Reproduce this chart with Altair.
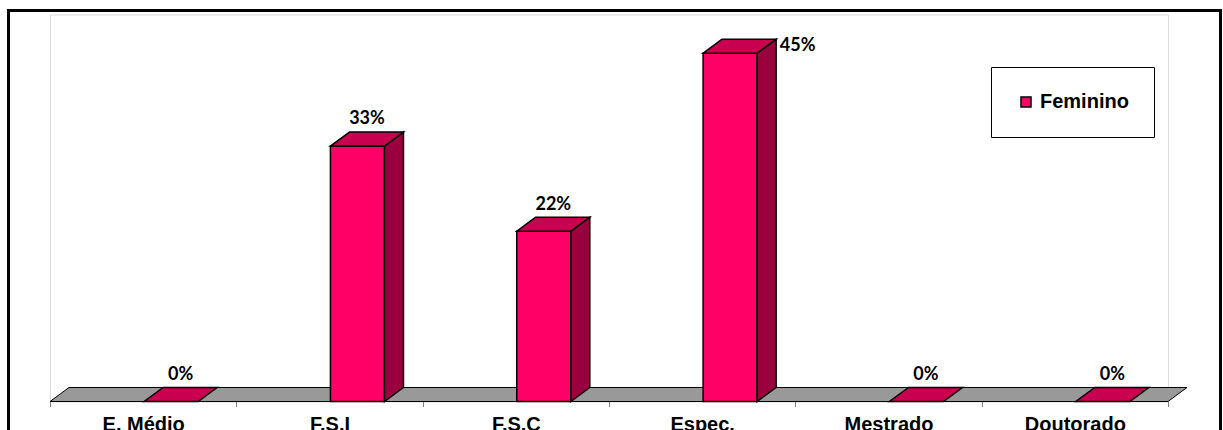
import json
import altair as alt
import pandas as pd

# ---- data ----
categories = ["E. Médio", "F.S.I", "F.S.C", "Espec.", "Mestrado", "Doutorado"]
values = [0, 33, 22, 45, 0, 0]
labels = ["0%", "33%", "22%", "45%", "0%", "0%"]
series_name = "Feminino"

# ---- styling / pseudo-3D geometry (in category units and % units) ----
FRONT = "#FF0066"
TOPC = "#C8004F"
SIDE = "#99003D"
FLOOR = "#999999"
BAR_L, BAR_R = 0.505, 0.795   # front face inside each category slot
DX, DP = 0.102, 1.81          # depth offset (x in slots, y in %)
N = len(categories)

front_rows, side_rows, top_rows, lab_rows = [], [], [], []
for i, (c, v, t) in enumerate(zip(categories, values, labels)):
    front_rows.append({"cat": c, "xl": i + BAR_L, "xr": i + BAR_R, "y0": 0, "y1": v, "series": series_name})
    if v > 0:
        side_rows.append({"cat": c, "x": i + BAR_R, "top": v, "bot": 0})
        side_rows.append({"cat": c, "x": i + BAR_R + DX, "top": v + DP, "bot": DP})
    top_rows.append({"cat": c, "p": v, "xl": i + BAR_L, "xr": i + BAR_R})
    top_rows.append({"cat": c, "p": v + DP, "xl": i + BAR_L + DX, "xr": i + BAR_R + DX})
    if v > 40:
        lab_rows.append({"cat": c, "t": t, "x": i + BAR_R + DX + 0.02, "y": v + 0.3, "al": "left"})
    else:
        lab_rows.append({"cat": c, "t": t, "x": i + (BAR_L + BAR_R) / 2 + DX / 2, "y": v + 2.8, "al": "center"})

front_df = pd.DataFrame(front_rows)
front_df = front_df[front_df["y1"] > 0]
side_df = pd.DataFrame(side_rows)
top_df = pd.DataFrame(top_rows)
lab_df = pd.DataFrame(lab_rows)
floor_df = pd.DataFrame([
    {"k": "floor", "p": 0, "xl": 0, "xr": N},
    {"k": "floor", "p": DP, "xl": DX, "xr": N + DX},
])

xscale = alt.Scale(domain=[0, N], nice=False, zero=False)
yscale = alt.Scale(domain=[0, 50], nice=False, zero=False)

label_expr = "datum.value < %d ? %s[datum.value] : ''" % (N, json.dumps(categories, ensure_ascii=False))
xax = alt.Axis(
    values=list(range(N + 1)), labelExpr=label_expr, title="",
    domain=False, grid=False, ticks=True, tickSize=5, tickColor="#808080", tickWidth=1,
    labelOffset=1118 / N / 2, labelPadding=8, labelFont="Liberation Sans",
    labelFontSize=20, labelFontWeight="bold", labelColor="black",
    labelOverlap=False, labelFlush=False, labelBound=False, labelAlign="center",
)

floor = alt.Chart(floor_df).mark_area(orient="horizontal", color=FLOOR, stroke="black", strokeWidth=1).encode(
    y=alt.Y("p:Q", scale=yscale, axis=None),
    x=alt.X("xl:Q", scale=xscale, axis=xax),
    x2="xr:Q",
    detail="k:N",
)

front = alt.Chart(front_df).mark_rect(stroke="black", strokeWidth=1.5, opacity=1).encode(
    x=alt.X("xl:Q", scale=xscale, axis=xax),
    x2="xr:Q",
    y=alt.Y("y0:Q", scale=yscale, axis=None),
    y2="y1:Q",
    color=alt.Color("series:N", scale=alt.Scale(domain=[series_name], range=[FRONT]),
                    legend=alt.Legend(
                        title=None, orient="none", legendX=941, legendY=52.5,
                        padding=25, strokeColor="black", fillColor="white", cornerRadius=0,
                        symbolType="square", symbolSize=100, symbolStrokeColor="black",
                        symbolStrokeWidth=1.5, symbolOpacity=1, labelOffset=4,
                        labelFont="Liberation Sans", labelFontSize=20, labelFontWeight="bold",
                        labelColor="black")),
)

side = alt.Chart(side_df).mark_area(color=SIDE, stroke="black", strokeWidth=1.5, opacity=1).encode(
    x=alt.X("x:Q", scale=xscale, axis=xax),
    y=alt.Y("top:Q", scale=yscale, axis=None),
    y2="bot:Q",
    detail="cat:N",
)

top = alt.Chart(top_df).mark_area(orient="horizontal", color=TOPC, stroke="black", strokeWidth=1.5, opacity=1).encode(
    y=alt.Y("p:Q", scale=yscale, axis=None),
    x=alt.X("xl:Q", scale=xscale, axis=xax),
    x2="xr:Q",
    detail="cat:N",
)

text_c = alt.Chart(lab_df[lab_df["al"] == "center"]).mark_text(
    font="Lato", fontSize=18, fontWeight="bold", color="black", align="center", baseline="alphabetic"
).encode(
    x=alt.X("x:Q", scale=xscale, axis=xax),
    y=alt.Y("y:Q", scale=yscale, axis=None),
    text="t:N",
)
text_l = alt.Chart(lab_df[lab_df["al"] == "left"]).mark_text(
    font="Lato", fontSize=18, fontWeight="bold", color="black", align="left", baseline="alphabetic"
).encode(
    x=alt.X("x:Q", scale=xscale, axis=xax),
    y=alt.Y("y:Q", scale=yscale, axis=None),
    text="t:N",
)

frame = alt.Chart(pd.DataFrame({"f": [1]})).mark_rect(fill=None, stroke="black", strokeWidth=3).encode(
    x=alt.value(-41.5), x2=alt.value(1170.5), y=alt.value(-4), y2=alt.value(440),
)

chart = alt.layer(floor, front, side, top, text_c, text_l, frame).properties(
    width=1118, height=387,
    autosize=alt.AutoSizeParams(type="none"),
    padding={"left": 50, "right": 55, "top": 14.5, "bottom": 28.5},
).configure_view(stroke=None).configure(background="white")

chart.save("out.html", embed_options={"renderer": "svg", "actions": False})
